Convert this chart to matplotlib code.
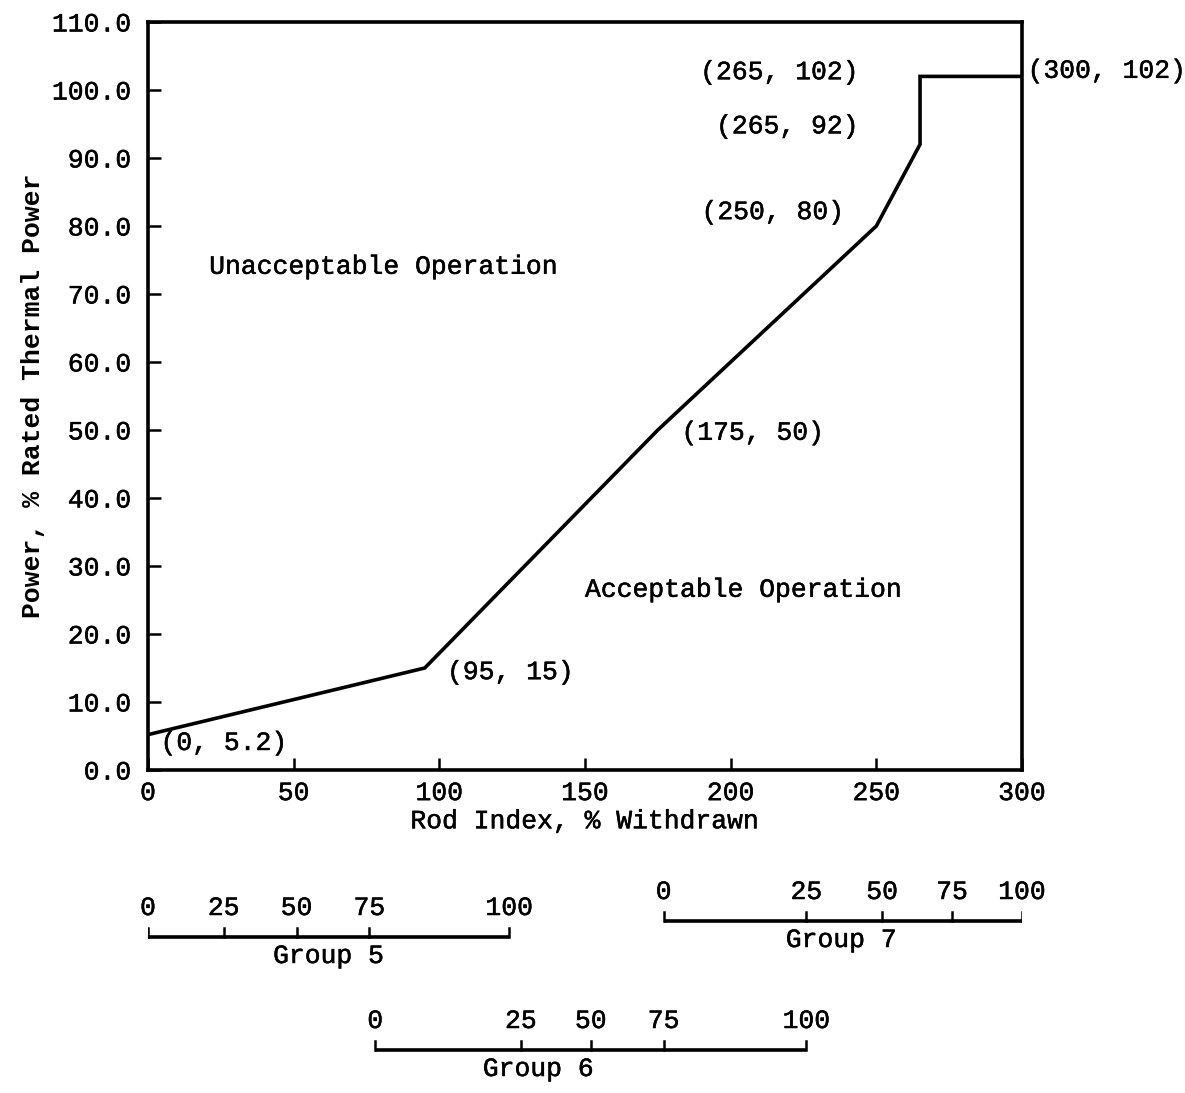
import matplotlib
matplotlib.use('Agg')
import matplotlib.pyplot as plt
import matplotlib.patheffects as pe

plt.rcParams['font.family'] = ['Liberation Mono', 'DejaVu Sans Mono']
FS = 19
# typewriter-style, slightly heavier strokes
INK = [pe.withStroke(linewidth=0.35, foreground='black')]

# power limit vs rod index
rod_index = [0, 95, 175, 250, 265, 265, 300]
power = [5.2, 15, 50, 80, 92, 102, 102]
point_labels = ['(0, 5.2)', '(95, 15)', '(175, 50)', '(250, 80)',
                '(265, 92)', '(265, 102)', '(300, 102)']

# rod group withdrawal (%) and where it falls on the rod index scale
group_pct = [0, 25, 50, 75, 100]
group5_idx = [0, 26, 51, 76, 124]
group6_idx = [78, 128, 152, 177, 226]
group7_idx = [177, 226, 252, 276, 300]

W, H = 1185, 1093
fig = plt.figure(figsize=(W / 100, H / 100), dpi=100)

ax = fig.add_axes([148 / W, 1 - 770 / H, (1022 - 148) / W, (770 - 22) / H])
ax.plot(rod_index, power, color='black', lw=2.6, solid_joinstyle='miter')
ax.set_xlim(0, 300)
ax.set_ylim(0, 110)
ax.set_xticks(range(0, 301, 50))
ax.set_yticks(range(0, 111, 10))
ax.set_yticklabels(['%.1f' % v for v in range(0, 111, 10)])
ax.tick_params(direction='in', length=9, width=1.8, labelsize=FS, color='black')
ax.tick_params(axis='y', pad=12)
ax.tick_params(axis='x', pad=8)
for lab in ax.get_xticklabels() + ax.get_yticklabels():
    lab.set_path_effects(INK)
for s in ax.spines.values():
    s.set_linewidth(2.6)
ax.set_xlabel('Rod Index, % Withdrawn', fontsize=FS, labelpad=3, path_effects=INK)
ax.set_ylabel('Power, % Rated Thermal Power', fontsize=FS, fontweight='bold', labelpad=5)

# point labels: offsets in points from each breakpoint
offsets = [(9, -6, 'left'), (16, -3, 'left'), (17, -2, 'left'), (-23, 10, 'right'),
           (-44, 13, 'right'), (-44, 3, 'right'), (4, 4, 'left')]
for x, y, lab, (dx, dy, ha) in zip(rod_index, power, point_labels, offsets):
    ax.annotate(lab, (x, y), xytext=(dx, dy), textcoords='offset points',
                ha=ha, va='center', fontsize=FS, annotation_clip=False,
                path_effects=INK)

ax.text(21, 74, 'Unacceptable Operation', fontsize=FS, va='center', ha='left',
        path_effects=INK)
ax.text(150, 26.5, 'Acceptable Operation', fontsize=FS, va='center', ha='left',
        path_effects=INK)

# rod group scales below the main plot (y in pixel rows)
rax = fig.add_axes([148 / W, 0, (1022 - 148) / W, 233 / H])
rax.set_xlim(0, 300)
rax.set_ylim(1093, 860)
rax.axis('off')

groups = [('Group 5', group5_idx, 937, 62), ('Group 7', group7_idx, 921, 238),
          ('Group 6', group6_idx, 1050, 134)]
for name, idx, yl, xlab in groups:
    rax.plot([idx[0], idx[-1]], [yl, yl], color='black', lw=2.6, solid_capstyle='butt')
    for p, xi in zip(group_pct, idx):
        rax.plot([xi, xi], [yl, yl - 9], color='black', lw=1.8)
        rax.text(xi, yl - 29, str(p), ha='center', va='center', fontsize=FS,
                 path_effects=INK)
    rax.text(xlab, yl + 19, name, ha='center', va='center', fontsize=FS,
             path_effects=INK)

fig.savefig('out.png', dpi=100, facecolor='white')
